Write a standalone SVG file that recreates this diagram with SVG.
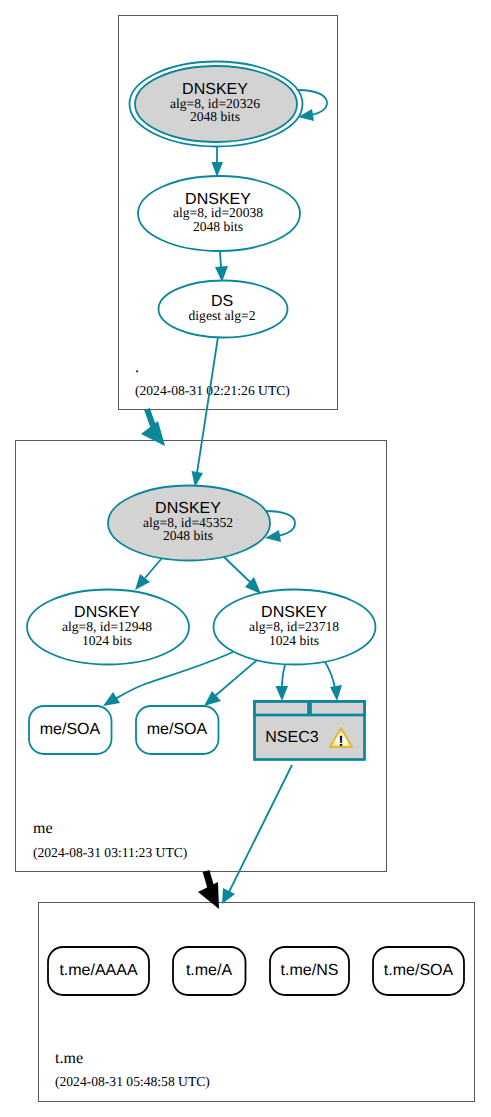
<svg xmlns="http://www.w3.org/2000/svg" width="491" height="1117" viewBox="0 0 491 1117">
<style>
text{text-rendering:geometricPrecision}
.c{fill:#fff;stroke:#000;stroke-opacity:.65;stroke-width:1}
.n{fill:#fff;stroke:#0a879a;stroke-width:1.800}
.g{fill:#d3d3d3;stroke:#0a879a;stroke-width:1.800}
.b{fill:#fff;stroke:#000;stroke-width:1.800}
.e{fill:none;stroke:#0a879a;stroke-width:1.800}
.h{fill:#0a879a;stroke:none}
.s{font-family:"Liberation Sans",Arial,sans-serif;font-size:16px;fill:#000;text-anchor:middle}
.t{font-family:"Liberation Serif","Times New Roman",serif;font-size:13.600px;fill:#000;text-anchor:middle}
.z{font-family:"Liberation Serif","Times New Roman",serif;font-size:13.600px;fill:#000}
.l{font-family:"Liberation Serif","Times New Roman",serif;font-size:16px;fill:#000}
</style>
<defs>
<radialGradient id="warn" cx="50%" cy="62%" r="55%">
<stop offset="0.3" stop-color="#ffffff"/>
<stop offset="1" stop-color="#f7d64a"/>
</radialGradient>
</defs>
<g id="cluster-root">
<rect class="c" x="118.500" y="15.500" width="219" height="394"/>
<text class="l" x="135" y="372">.</text>
<text class="z" x="135" y="394.500">(2024-08-31 02:21:26 UTC)</text>
</g>
<g id="cluster-me">
<rect class="c" x="15.500" y="440.500" width="371" height="431"/>
<text class="l" x="33" y="833">me</text>
<text class="z" x="33" y="856.500">(2024-08-31 03:11:23 UTC)</text>
</g>
<g id="cluster-tme">
<rect class="c" x="38.500" y="902.500" width="436" height="199"/>
<text class="l" x="55" y="1063">t.me</text>
<text class="z" x="55" y="1085.500">(2024-08-31 05:48:58 UTC)</text>
</g>
<g id="connectors">
<path class="e" d="M298 90C318 90 327 96 327 103C327 110 320 113 311 115"/>
<polygon class="h" points="298,117 312,109 314,121"/>
<path class="e" d="M217 147V164"/>
<polygon class="h" points="217,177 211.500,162 223,162"/>
<path class="e" d="M220 252L221 267"/>
<polygon class="h" points="222,282 215,267 228,266"/>
<path class="e" d="M218 337L197 473"/>
<polygon class="h" points="195,487 191.500,471 203,473"/>
<path class="e" d="M265 511C285 511 295 516 295 523C295 530 288 534 277 536"/>
<polygon class="h" points="265,538 279,530 281,542"/>
<path class="e" d="M162 558L145 578"/>
<polygon class="h" points="135,590 140,574 150,582"/>
<path class="e" d="M223 556L250 582"/>
<polygon class="h" points="261,594 245,587 254,577"/>
<path class="e" d="M233 652C200 667 170 675 145 684C132 689 122 695 115 699"/>
<polygon class="h" points="103,706 113,692 120,703"/>
<path class="e" d="M257 660L215 696"/>
<polygon class="h" points="204,706 212,691 221,701"/>
<path class="e" d="M285 665C283 672 282 678 282 688"/>
<polygon class="h" points="282,701 275.500,686 288,686"/>
<path class="e" d="M325 662C330 670 333 678 335 688"/>
<polygon class="h" points="337,701 330,687 342,685"/>
<path class="e" d="M292 765L229 892"/>
<polygon class="h" points="222,904 223,888 235,894"/>
<path d="M147 409L153 426" fill="none" stroke="#0a879a" stroke-width="6"/>
<polygon class="h" points="165,446 141,434 158,421"/>
<path d="M206 871L211 888" fill="none" stroke="#000" stroke-width="7"/>
<polygon points="219,909 198,892 218,882" fill="#000"/>
</g>
<g id="node-dnskey-20326">
<ellipse class="n" cx="216" cy="104" rx="86.500" ry="42.500"/>
<ellipse class="g" cx="216" cy="104" rx="81" ry="38"/>
<text class="s" x="215" y="94">DNSKEY</text>
<text class="t" x="215" y="107.500">alg=8, id=20326</text>
<text class="t" x="215" y="120.500">2048 bits</text>
</g>
<g id="node-dnskey-20038">
<ellipse class="n" cx="219" cy="213.500" rx="81" ry="37.500"/>
<text class="s" x="218" y="203.500">DNSKEY</text>
<text class="t" x="218" y="217">alg=8, id=20038</text>
<text class="t" x="218" y="230.500">2048 bits</text>
</g>
<g id="node-ds">
<ellipse class="n" cx="223" cy="309" rx="64.500" ry="28.500"/>
<text class="s" x="222" y="306">DS</text>
<text class="t" x="222" y="320">digest alg=2</text>
</g>
<g id="node-dnskey-45352">
<ellipse class="g" cx="189" cy="523" rx="81" ry="37.500"/>
<text class="s" x="188" y="513">DNSKEY</text>
<text class="t" x="188" y="526.500">alg=8, id=45352</text>
<text class="t" x="188" y="540">2048 bits</text>
</g>
<g id="node-dnskey-12948">
<ellipse class="n" cx="108" cy="627" rx="81" ry="37.500"/>
<text class="s" x="107" y="617">DNSKEY</text>
<text class="t" x="107" y="630.500">alg=8, id=12948</text>
<text class="t" x="107" y="644.500">1024 bits</text>
</g>
<g id="node-dnskey-23718">
<ellipse class="n" cx="294.500" cy="627" rx="81" ry="37.500"/>
<text class="s" x="294" y="617">DNSKEY</text>
<text class="t" x="294" y="630.500">alg=8, id=23718</text>
<text class="t" x="294" y="644.500">1024 bits</text>
</g>
<g id="node-me-soa-1">
<rect class="n" x="29" y="706" width="82.500" height="48" rx="15"/>
<text class="s" x="70" y="734">me/SOA</text>
</g>
<g id="node-me-soa-2">
<rect class="n" x="136" y="706" width="82.500" height="48" rx="15"/>
<text class="s" x="177" y="734">me/SOA</text>
</g>
<g id="node-nsec3">
<rect x="254.500" y="701.500" width="110" height="58" fill="#d3d3d3" stroke="#0a879a" stroke-width="2.700"/>
<rect x="254.500" y="701.500" width="54" height="13.500" fill="#d3d3d3" stroke="#0a879a" stroke-width="2.700"/>
<rect x="310.500" y="701.500" width="54" height="13.500" fill="#d3d3d3" stroke="#0a879a" stroke-width="2.700"/>
<text class="s" x="292" y="742">NSEC3</text>
<polygon points="341,728 352,747 330,747" fill="url(#warn)" stroke="#dcbc3c" stroke-width="2" stroke-linejoin="round"/>
<text x="341" y="746" font-family="'Liberation Sans',Arial,sans-serif" font-size="15" font-weight="bold" text-anchor="middle" fill="#000">!</text>
</g>
<g id="node-tme-aaaa">
<rect class="b" x="48" y="947" width="101" height="48" rx="15"/>
<text class="s" x="98.500" y="975">t.me/AAAA</text>
</g>
<g id="node-tme-a">
<rect class="b" x="173" y="947" width="72.500" height="48" rx="15"/>
<text class="s" x="209" y="975">t.me/A</text>
</g>
<g id="node-tme-ns">
<rect class="b" x="270" y="947" width="79" height="48" rx="15"/>
<text class="s" x="309.500" y="975">t.me/NS</text>
</g>
<g id="node-tme-soa">
<rect class="b" x="373" y="947" width="91" height="48" rx="15"/>
<text class="s" x="418.500" y="975">t.me/SOA</text>
</g>
</svg>
